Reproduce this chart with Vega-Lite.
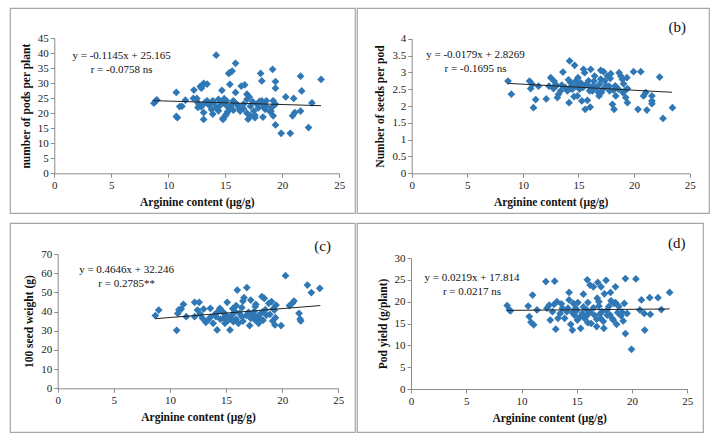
{
  "$schema": "https://vega.github.io/schema/vega-lite/v6.json",
  "background": "white",
  "padding": {"left": 9, "top": 7, "right": 0, "bottom": 0},
  "config": {
    "view": {"stroke": "#a6a6a6", "strokeWidth": 1.2},
    "font": "Liberation Serif",
    "axis": {
      "grid": false,
      "domainColor": "#8c8c8c",
      "tickColor": "#8c8c8c",
      "tickSize": 4,
      "labelFont": "Liberation Serif",
      "labelFontSize": 11,
      "labelColor": "#222",
      "labelPadding": 2,
      "labelOverlap": false,
      "labelFlush": false,
      "titleFont": "Liberation Serif",
      "titleFontSize": 11.5,
      "titleFontWeight": "bold",
      "titleColor": "#111",
      "titlePadding": 6
    },
    "text": {"font": "Liberation Serif", "fontSize": 11, "color": "#111"}
  },
  "datasets": {
    "A": [
      {"x":8.74,"y":23.3},{"x":8.9,"y":24.1},{"x":9.0,"y":24.4},{"x":10.7,"y":26.9},{"x":10.7,"y":18.9},{"x":10.8,"y":18.5},{"x":11.0,"y":22.2},{"x":11.2,"y":22.3},{"x":11.5,"y":24.3},{"x":12.25,"y":27.7},{"x":12.2,"y":24.9},{"x":12.5,"y":24.9},{"x":12.6,"y":23.5},{"x":12.6,"y":21.9},{"x":12.7,"y":22.8},{"x":12.8,"y":28.9},{"x":13.0,"y":29.2},{"x":13.1,"y":29.9},{"x":13.4,"y":29.7},{"x":12.9,"y":28.3},{"x":13.1,"y":17.9},{"x":13.1,"y":20.2},{"x":13.2,"y":23.5},{"x":13.4,"y":24.1},{"x":13.5,"y":23.0},{"x":13.9,"y":24.1},{"x":13.9,"y":19.7},{"x":14.2,"y":39.3},{"x":14.2,"y":21.8},{"x":14.4,"y":24.6},{"x":14.5,"y":22.4},{"x":14.7,"y":27.6},{"x":14.8,"y":18.3},{"x":14.8,"y":17.9},{"x":15.0,"y":19.1},{"x":15.1,"y":19.7},{"x":15.3,"y":33.2},{"x":15.4,"y":33.5},{"x":15.6,"y":34.0},{"x":15.4,"y":29.6},{"x":15.1,"y":24.1},{"x":15.3,"y":21.8},{"x":15.7,"y":24.1},{"x":16.0,"y":23.0},{"x":15.9,"y":36.6},{"x":15.9,"y":26.9},{"x":15.7,"y":21.0},{"x":16.4,"y":29.0},{"x":16.7,"y":29.4},{"x":16.2,"y":21.8},{"x":16.6,"y":23.0},{"x":16.9,"y":24.6},{"x":16.9,"y":26.3},{"x":17.1,"y":25.4},{"x":17.0,"y":18.0},{"x":17.2,"y":19.1},{"x":17.5,"y":20.7},{"x":17.6,"y":18.5},{"x":17.9,"y":21.8},{"x":18.1,"y":33.2},{"x":18.2,"y":30.7},{"x":18.2,"y":24.1},{"x":18.3,"y":23.0},{"x":18.3,"y":18.7},{"x":18.5,"y":21.3},{"x":18.6,"y":24.1},{"x":19.15,"y":34.6},{"x":19.2,"y":24.1},{"x":19.2,"y":19.1},{"x":19.0,"y":20.7},{"x":19.4,"y":30.5},{"x":19.4,"y":28.3},{"x":19.4,"y":16.1},{"x":19.4,"y":23.0},{"x":19.9,"y":13.3},{"x":20.3,"y":25.4},{"x":20.7,"y":13.3},{"x":21.0,"y":24.9},{"x":20.9,"y":19.1},{"x":21.1,"y":20.2},{"x":21.6,"y":32.3},{"x":21.7,"y":27.4},{"x":21.6,"y":20.7},{"x":22.3,"y":15.2},{"x":22.6,"y":23.4},{"x":23.4,"y":31.2},
      {"x":12.9,"y":22.1},{"x":13.6,"y":22.6},{"x":14.0,"y":23.3},{"x":14.6,"y":23.8},{"x":14.9,"y":24.8},{"x":15.5,"y":22.5},{"x":15.8,"y":23.6},{"x":16.3,"y":20.7},{"x":16.6,"y":21.5},{"x":17.2,"y":22.3},{"x":17.4,"y":23.8},{"x":17.8,"y":22.9},{"x":18.0,"y":23.9},{"x":18.6,"y":22.3},{"x":18.9,"y":20.6},{"x":19.1,"y":22.0},{"x":15.2,"y":20.5},{"x":14.4,"y":20.8},{"x":16.9,"y":20.0},{"x":17.6,"y":19.3},{"x":13.8,"y":21.2},{"x":15.0,"y":22.9},{"x":16.1,"y":22.6},{"x":18.4,"y":21.9}
    ],
    "B": [
      {"x":8.66,"y":2.74},{"x":8.96,"y":2.35},{"x":10.6,"y":2.74},{"x":10.7,"y":2.52},{"x":10.85,"y":2.64},{"x":10.95,"y":1.95},{"x":11.15,"y":2.19},{"x":11.4,"y":2.59},{"x":12.1,"y":2.21},{"x":12.5,"y":2.84},{"x":12.8,"y":2.74},{"x":12.35,"y":2.59},{"x":12.75,"y":2.52},{"x":12.95,"y":2.64},{"x":13.2,"y":2.35},{"x":13.1,"y":2.25},{"x":13.4,"y":2.45},{"x":13.6,"y":3.01},{"x":14.15,"y":2.1},{"x":14.3,"y":2.69},{"x":14.25,"y":2.52},{"x":14.45,"y":2.5},{"x":14.2,"y":3.34},{"x":14.65,"y":3.21},{"x":14.6,"y":2.28},{"x":14.9,"y":2.3},{"x":14.75,"y":2.74},{"x":14.95,"y":2.84},{"x":15.2,"y":2.69},{"x":15.05,"y":2.56},{"x":15.3,"y":2.15},{"x":15.45,"y":3.09},{"x":15.55,"y":2.99},{"x":15.8,"y":2.17},{"x":15.6,"y":1.9},{"x":16.05,"y":1.97},{"x":16.1,"y":3.09},{"x":16.25,"y":2.45},{"x":15.95,"y":2.59},{"x":16.4,"y":2.74},{"x":16.45,"y":2.89},{"x":16.85,"y":2.3},{"x":17.05,"y":2.4},{"x":17.0,"y":3.06},{"x":17.25,"y":3.02},{"x":17.35,"y":2.74},{"x":17.6,"y":2.89},{"x":17.9,"y":2.96},{"x":17.85,"y":2.82},{"x":17.75,"y":2.59},{"x":18.05,"y":2.05},{"x":18.2,"y":1.9},{"x":18.15,"y":2.47},{"x":18.35,"y":2.3},{"x":18.65,"y":2.99},{"x":18.8,"y":2.89},{"x":18.95,"y":2.79},{"x":19.05,"y":2.66},{"x":19.15,"y":2.45},{"x":19.25,"y":2.25},{"x":19.35,"y":2.84},{"x":19.4,"y":2.1},{"x":19.4,"y":2.52},{"x":19.95,"y":3.02},{"x":20.35,"y":1.9},{"x":20.6,"y":3.02},{"x":20.85,"y":2.3},{"x":21.05,"y":2.4},{"x":21.15,"y":1.88},{"x":21.6,"y":2.3},{"x":21.6,"y":2.15},{"x":21.6,"y":2.07},{"x":22.3,"y":2.86},{"x":22.6,"y":1.63},{"x":23.45,"y":1.95},
      {"x":13.0,"y":2.6},{"x":13.8,"y":2.55},{"x":14.0,"y":2.45},{"x":14.4,"y":2.6},{"x":14.8,"y":2.6},{"x":15.1,"y":2.5},{"x":15.4,"y":2.55},{"x":15.7,"y":2.65},{"x":16.0,"y":2.45},{"x":16.3,"y":2.6},{"x":16.6,"y":2.55},{"x":16.9,"y":2.65},{"x":17.2,"y":2.5},{"x":17.5,"y":2.6},{"x":17.8,"y":2.45},{"x":18.3,"y":2.6},{"x":18.6,"y":2.5},{"x":19.0,"y":2.4},{"x":13.5,"y":2.62},{"x":15.9,"y":2.75},{"x":17.0,"y":2.8},{"x":14.1,"y":2.78},{"x":16.8,"y":2.4}
    ],
    "C": [
      {"x":8.7,"y":37.9},{"x":9.0,"y":40.8},{"x":10.6,"y":30.2},{"x":10.7,"y":39.0},{"x":10.8,"y":41.0},{"x":11.0,"y":41.3},{"x":11.2,"y":43.8},{"x":11.45,"y":37.3},{"x":12.2,"y":44.8},{"x":12.2,"y":37.3},{"x":12.6,"y":44.8},{"x":12.45,"y":40.8},{"x":12.7,"y":38.6},{"x":12.9,"y":36.5},{"x":13.0,"y":41.3},{"x":13.2,"y":34.4},{"x":13.4,"y":35.6},{"x":13.6,"y":41.7},{"x":13.85,"y":33.9},{"x":14.1,"y":37.3},{"x":14.2,"y":30.4},{"x":14.3,"y":40.0},{"x":14.45,"y":41.7},{"x":14.7,"y":40.0},{"x":14.8,"y":36.5},{"x":14.9,"y":33.9},{"x":15.0,"y":38.2},{"x":15.1,"y":44.8},{"x":15.35,"y":30.4},{"x":15.4,"y":36.5},{"x":15.65,"y":34.7},{"x":15.8,"y":40.0},{"x":15.9,"y":43.1},{"x":16.0,"y":51.2},{"x":16.1,"y":33.9},{"x":16.4,"y":37.3},{"x":16.5,"y":45.5},{"x":16.6,"y":47.2},{"x":16.85,"y":52.5},{"x":17.0,"y":39.6},{"x":17.1,"y":32.7},{"x":17.2,"y":46.0},{"x":17.4,"y":38.2},{"x":17.6,"y":42.6},{"x":17.65,"y":43.8},{"x":17.9,"y":33.9},{"x":18.0,"y":36.5},{"x":18.2,"y":47.8},{"x":18.4,"y":46.9},{"x":18.3,"y":40.0},{"x":18.6,"y":38.2},{"x":18.8,"y":44.3},{"x":19.05,"y":45.2},{"x":19.15,"y":35.1},{"x":19.35,"y":33.0},{"x":19.3,"y":40.8},{"x":19.45,"y":43.4},{"x":19.4,"y":36.8},{"x":19.9,"y":32.7},{"x":20.3,"y":58.7},{"x":20.65,"y":43.1},{"x":20.9,"y":44.3},{"x":21.05,"y":45.5},{"x":21.5,"y":39.1},{"x":21.6,"y":36.1},{"x":21.65,"y":35.1},{"x":22.25,"y":53.8},{"x":22.6,"y":49.9},{"x":23.35,"y":52.1},
      {"x":13.6,"y":37.0},{"x":14.0,"y":38.5},{"x":14.5,"y":36.0},{"x":14.9,"y":38.5},{"x":15.2,"y":35.5},{"x":15.5,"y":38.0},{"x":15.9,"y":36.0},{"x":16.2,"y":39.0},{"x":16.5,"y":35.0},{"x":16.8,"y":38.0},{"x":17.2,"y":36.5},{"x":17.5,"y":40.0},{"x":17.8,"y":37.5},{"x":18.1,"y":39.0},{"x":18.5,"y":41.0},{"x":18.9,"y":38.5},{"x":19.2,"y":41.5},{"x":14.2,"y":39.5},{"x":15.6,"y":41.5},{"x":16.4,"y":42.0},{"x":17.6,"y":35.5},{"x":18.3,"y":35.5}
    ],
    "D": [
      {"x":8.7,"y":19.1},{"x":8.9,"y":18.1},{"x":9.0,"y":17.9},{"x":10.6,"y":19.0},{"x":10.7,"y":16.6},{"x":10.85,"y":15.3},{"x":11.0,"y":21.5},{"x":11.1,"y":14.7},{"x":11.4,"y":18.1},{"x":12.2,"y":24.6},{"x":12.3,"y":18.5},{"x":12.5,"y":19.2},{"x":12.6,"y":15.8},{"x":12.8,"y":17.7},{"x":12.95,"y":19.4},{"x":13.0,"y":24.7},{"x":13.1,"y":13.7},{"x":13.2,"y":20.0},{"x":13.3,"y":16.2},{"x":13.5,"y":17.3},{"x":13.7,"y":18.5},{"x":13.9,"y":16.2},{"x":14.1,"y":17.7},{"x":14.3,"y":22.1},{"x":14.3,"y":20.4},{"x":14.45,"y":14.8},{"x":14.6,"y":13.5},{"x":14.7,"y":19.6},{"x":14.8,"y":16.9},{"x":14.9,"y":18.5},{"x":15.05,"y":15.8},{"x":15.1,"y":19.8},{"x":15.35,"y":13.9},{"x":15.5,"y":17.3},{"x":15.6,"y":21.7},{"x":15.7,"y":16.2},{"x":15.9,"y":18.1},{"x":15.95,"y":25.0},{"x":16.0,"y":19.8},{"x":16.2,"y":23.8},{"x":16.3,"y":15.0},{"x":16.5,"y":23.4},{"x":16.6,"y":16.9},{"x":16.8,"y":14.3},{"x":16.85,"y":20.8},{"x":16.9,"y":24.4},{"x":17.0,"y":20.0},{"x":17.15,"y":16.2},{"x":17.2,"y":23.4},{"x":17.3,"y":17.7},{"x":17.45,"y":13.9},{"x":17.5,"y":21.8},{"x":17.65,"y":24.9},{"x":17.75,"y":16.9},{"x":17.9,"y":18.9},{"x":18.05,"y":22.1},{"x":18.1,"y":20.2},{"x":18.2,"y":16.2},{"x":18.35,"y":19.6},{"x":18.5,"y":23.4},{"x":18.6,"y":14.8},{"x":18.8,"y":18.9},{"x":19.1,"y":17.6},{"x":19.2,"y":15.6},{"x":19.3,"y":19.6},{"x":19.4,"y":25.3},{"x":19.4,"y":12.7},{"x":19.55,"y":17.3},{"x":19.95,"y":9.1},{"x":20.35,"y":25.2},{"x":20.7,"y":18.1},{"x":20.85,"y":20.4},{"x":21.1,"y":17.3},{"x":21.15,"y":13.5},{"x":21.6,"y":20.9},{"x":21.65,"y":17.1},{"x":22.35,"y":20.9},{"x":22.65,"y":18.2},{"x":23.4,"y":22.1},
      {"x":14.2,"y":18.5},{"x":14.6,"y":17.5},{"x":15.0,"y":18.0},{"x":15.3,"y":16.5},{"x":15.6,"y":18.8},{"x":15.9,"y":16.8},{"x":16.2,"y":17.6},{"x":16.5,"y":18.6},{"x":16.8,"y":16.0},{"x":17.1,"y":17.2},{"x":17.4,"y":15.5},{"x":17.7,"y":18.0},{"x":18.0,"y":17.0},{"x":18.3,"y":15.8},{"x":18.7,"y":17.5},{"x":19.0,"y":16.8},{"x":13.6,"y":19.5},{"x":16.0,"y":15.2},{"x":17.0,"y":19.0},{"x":18.5,"y":19.8}
    ],
    "TA": [{"x":8.7,"y":24.17},{"x":23.4,"y":22.49}],
    "TB": [{"x":8.7,"y":2.671},{"x":23.4,"y":2.408}],
    "TC": [{"x":8.7,"y":36.29},{"x":23.4,"y":43.12}],
    "TD": [{"x":8.7,"y":18.0},{"x":23.4,"y":18.33}],
    "one": [{}]
  },
  "columns": 2,
  "align": "none",
  "spacing": {"row": 8, "column": 0},
  "concat": [
    {
      "width": 345, "height": 205,
      "layer": [
        {"data": {"name": "A"}, "mark": {"type": "point", "shape": "diamond", "filled": true, "color": "#2f78b5", "opacity": 1, "size": 60},
         "encoding": {
           "x": {"field": "x", "type": "quantitative", "scale": {"domain": [0, 25], "range": [44.3, 329.3], "nice": false, "zero": false},
                 "axis": {"values": [0,5,10,15,20,25], "offset": -39.7, "labelOverlap": false}, "title": "Arginine content (μg/g)"},
           "y": {"field": "y", "type": "quantitative", "scale": {"domain": [0, 45], "range": [165.3, 30], "nice": false, "zero": false},
                 "axis": {"values": [0,5,10,15,20,25,30,35,40,45], "offset": -44.3, "labelOverlap": false}, "title": "number of  pods per plant"}}},
        {"data": {"name": "TA"}, "mark": {"type": "line", "color": "#222", "strokeWidth": 1},
         "encoding": {
           "x": {"field": "x", "type": "quantitative", "axis": {"values": [0,5,10,15,20,25], "offset": -39.7, "labelOverlap": false}, "title": "Arginine content (μg/g)"},
           "y": {"field": "y", "type": "quantitative", "axis": {"values": [0,5,10,15,20,25,30,35,40,45], "offset": -44.3, "labelOverlap": false}, "title": "number of  pods per plant"}}},
        {"data": {"name": "one"}, "mark": {"type": "text", "align": "center", "lineHeight": 14, "baseline": "middle", "font": "Liberation Serif", "fontSize": 11},
         "encoding": {
           "x": {"datum": 5.9, "type": "quantitative", "axis": {"values": [0,5,10,15,20,25], "offset": -39.7, "labelOverlap": false}, "title": "Arginine content (μg/g)"},
           "y": {"datum": 39.1, "type": "quantitative", "axis": {"values": [0,5,10,15,20,25,30,35,40,45], "offset": -44.3, "labelOverlap": false}, "title": "number of  pods per plant"},
           "text": {"value": ["y = -0.1145x + 25.165", "r = -0.0758 ns"]}}}
      ]
    },
    {
      "width": 352, "height": 205,
      "layer": [
        {"data": {"name": "B"}, "mark": {"type": "point", "shape": "diamond", "filled": true, "color": "#2f78b5", "opacity": 1, "size": 60},
         "encoding": {
           "x": {"field": "x", "type": "quantitative", "scale": {"domain": [0, 25], "range": [54.7, 332.7], "nice": false, "zero": false},
                 "axis": {"values": [0,5,10,15,20,25], "offset": -39.7, "labelOverlap": false}, "title": "Arginine content (μg/g)"},
           "y": {"field": "y", "type": "quantitative", "scale": {"domain": [0, 4], "range": [165.3, 30.7], "nice": false, "zero": false},
                 "axis": {"values": [0,0.5,1,1.5,2,2.5,3,3.5,4], "format": "~g", "offset": -54.7, "labelOverlap": false}, "title": "Number of seeds per pod"}}},
        {"data": {"name": "TB"}, "mark": {"type": "line", "color": "#222", "strokeWidth": 1},
         "encoding": {
           "x": {"field": "x", "type": "quantitative", "axis": {"values": [0,5,10,15,20,25], "offset": -39.7, "labelOverlap": false}, "title": "Arginine content (μg/g)"},
           "y": {"field": "y", "type": "quantitative", "axis": {"values": [0,0.5,1,1.5,2,2.5,3,3.5,4], "format": "~g", "offset": -54.7, "labelOverlap": false}, "title": "Number of seeds per pod"}}},
        {"data": {"name": "one"}, "mark": {"type": "text", "align": "center", "lineHeight": 14, "baseline": "middle", "font": "Liberation Serif", "fontSize": 11},
         "encoding": {
           "x": {"datum": 5.74, "type": "quantitative", "axis": {"values": [0,5,10,15,20,25], "offset": -39.7, "labelOverlap": false}, "title": "Arginine content (μg/g)"},
           "y": {"datum": 3.53, "type": "quantitative", "axis": {"values": [0,0.5,1,1.5,2,2.5,3,3.5,4], "format": "~g", "offset": -54.7, "labelOverlap": false}, "title": "Number of seeds per pod"},
           "text": {"value": ["y = -0.0179x + 2.8269", "r = -0.1695 ns"]}}},
        {"data": {"name": "one"}, "mark": {"type": "text", "align": "center", "baseline": "middle", "font": "Liberation Serif", "fontSize": 15},
         "encoding": {
           "x": {"datum": 23.87, "type": "quantitative", "axis": {"values": [0,5,10,15,20,25], "offset": -39.7, "labelOverlap": false}, "title": "Arginine content (μg/g)"},
           "y": {"datum": 4.35, "type": "quantitative", "axis": {"values": [0,0.5,1,1.5,2,2.5,3,3.5,4], "format": "~g", "offset": -54.7, "labelOverlap": false}, "title": "Number of seeds per pod"},
           "text": {"value": "(b)"}}}
      ]
    },
    {
      "width": 345, "height": 209,
      "layer": [
        {"data": {"name": "C"}, "mark": {"type": "point", "shape": "diamond", "filled": true, "color": "#2f78b5", "opacity": 1, "size": 60},
         "encoding": {
           "x": {"field": "x", "type": "quantitative", "scale": {"domain": [0, 25], "range": [47.7, 328.3], "nice": false, "zero": false},
                 "axis": {"values": [0,5,10,15,20,25], "offset": -43.7, "labelOverlap": false}, "title": "Arginine content (μg/g)"},
           "y": {"field": "y", "type": "quantitative", "scale": {"domain": [0, 70], "range": [165.3, 31], "nice": false, "zero": false},
                 "axis": {"values": [0,10,20,30,40,50,60,70], "offset": -47.7, "labelOverlap": false}, "title": "100 seed weight (g)"}}},
        {"data": {"name": "TC"}, "mark": {"type": "line", "color": "#222", "strokeWidth": 1},
         "encoding": {
           "x": {"field": "x", "type": "quantitative", "axis": {"values": [0,5,10,15,20,25], "offset": -43.7, "labelOverlap": false}, "title": "Arginine content (μg/g)"},
           "y": {"field": "y", "type": "quantitative", "axis": {"values": [0,10,20,30,40,50,60,70], "offset": -47.7, "labelOverlap": false}, "title": "100 seed weight (g)"}}},
        {"data": {"name": "one"}, "mark": {"type": "text", "align": "center", "lineHeight": 14, "baseline": "middle", "font": "Liberation Serif", "fontSize": 11},
         "encoding": {
           "x": {"datum": 6.14, "type": "quantitative", "axis": {"values": [0,5,10,15,20,25], "offset": -43.7, "labelOverlap": false}, "title": "Arginine content (μg/g)"},
           "y": {"datum": 61.6, "type": "quantitative", "axis": {"values": [0,10,20,30,40,50,60,70], "offset": -47.7, "labelOverlap": false}, "title": "100 seed weight (g)"},
           "text": {"value": ["y = 0.4646x + 32.246", "r = 0.2785**"]}}},
        {"data": {"name": "one"}, "mark": {"type": "text", "align": "center", "baseline": "middle", "font": "Liberation Serif", "fontSize": 15},
         "encoding": {
           "x": {"datum": 23.6, "type": "quantitative", "axis": {"values": [0,5,10,15,20,25], "offset": -43.7, "labelOverlap": false}, "title": "Arginine content (μg/g)"},
           "y": {"datum": 74.2, "type": "quantitative", "axis": {"values": [0,10,20,30,40,50,60,70], "offset": -47.7, "labelOverlap": false}, "title": "100 seed weight (g)"},
           "text": {"value": "(c)"}}}
      ]
    },
    {
      "width": 346, "height": 209,
      "layer": [
        {"data": {"name": "D"}, "mark": {"type": "point", "shape": "diamond", "filled": true, "color": "#2f78b5", "opacity": 1, "size": 60},
         "encoding": {
           "x": {"field": "x", "type": "quantitative", "scale": {"domain": [0, 25], "range": [54, 330.3], "nice": false, "zero": false},
                 "axis": {"values": [0,5,10,15,20,25], "offset": -43, "labelOverlap": false}, "title": "Arginine content (μg/g)"},
           "y": {"field": "y", "type": "quantitative", "scale": {"domain": [0, 30], "range": [166, 35], "nice": false, "zero": false},
                 "axis": {"values": [0,5,10,15,20,25,30], "offset": -54, "labelOverlap": false}, "title": "Pod yield (g/plant)"}}},
        {"data": {"name": "TD"}, "mark": {"type": "line", "color": "#222", "strokeWidth": 1},
         "encoding": {
           "x": {"field": "x", "type": "quantitative", "axis": {"values": [0,5,10,15,20,25], "offset": -43, "labelOverlap": false}, "title": "Arginine content (μg/g)"},
           "y": {"field": "y", "type": "quantitative", "axis": {"values": [0,5,10,15,20,25,30], "offset": -54, "labelOverlap": false}, "title": "Pod yield (g/plant)"}}},
        {"data": {"name": "one"}, "mark": {"type": "text", "align": "center", "lineHeight": 14, "baseline": "middle", "font": "Liberation Serif", "fontSize": 11},
         "encoding": {
           "x": {"datum": 5.52, "type": "quantitative", "axis": {"values": [0,5,10,15,20,25], "offset": -43, "labelOverlap": false}, "title": "Arginine content (μg/g)"},
           "y": {"datum": 25.35, "type": "quantitative", "axis": {"values": [0,5,10,15,20,25,30], "offset": -54, "labelOverlap": false}, "title": "Pod yield (g/plant)"},
           "text": {"value": ["y = 0.0219x + 17.814", "r = 0.0217 ns"]}}},
        {"data": {"name": "one"}, "mark": {"type": "text", "align": "center", "baseline": "middle", "font": "Liberation Serif", "fontSize": 15},
         "encoding": {
           "x": {"datum": 24.04, "type": "quantitative", "axis": {"values": [0,5,10,15,20,25], "offset": -43, "labelOverlap": false}, "title": "Arginine content (μg/g)"},
           "y": {"datum": 33.4, "type": "quantitative", "axis": {"values": [0,5,10,15,20,25,30], "offset": -54, "labelOverlap": false}, "title": "Pod yield (g/plant)"},
           "text": {"value": "(d)"}}}
      ]
    }
  ]
}
